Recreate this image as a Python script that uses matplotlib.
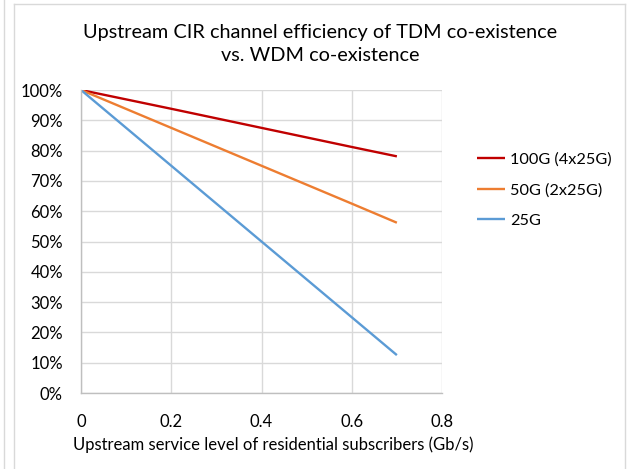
import matplotlib
matplotlib.use("Agg")
import matplotlib.pyplot as plt
from matplotlib.ticker import PercentFormatter
from matplotlib.lines import Line2D

plt.rcParams['font.family'] = ['Lato', 'DejaVu Sans']

x_vals = [0, 0.2, 0.4, 0.6, 0.7]
series_names = ["100G (4x25G)", "50G (2x25G)", "25G"]
eff_100g = [100, 93.8, 87.5, 81.2, 78.1]
eff_50g = [100, 87.5, 75.0, 62.5, 56.2]
eff_25g = [100, 75.0, 50.0, 25.0, 12.5]
colors = ["#C00000", "#ED7D31", "#5B9BD5"]
x_ticks = [0, 0.2, 0.4, 0.6, 0.8]
x_tick_labels = ["0", "0.2", "0.4", "0.6", "0.8"]

W, H = 627, 469
fig = plt.figure(figsize=(W / 100, H / 100), dpi=100)
ax = fig.add_axes([81 / W, 1 - 393 / H, (442 - 81) / W, (393 - 90) / H])

for vals, name, c in zip([eff_100g, eff_50g, eff_25g], series_names, colors):
    ax.plot(x_vals, vals, color=c, lw=1.7, label=name, solid_capstyle='butt')

ax.set_xlim(0, 0.8)
ax.set_ylim(0, 100)
ax.set_xticks(x_ticks)
ax.set_xticklabels(x_tick_labels)
ax.set_yticks(range(0, 101, 10))
ax.yaxis.set_major_formatter(PercentFormatter(decimals=0))
ax.grid(True, color="#d9d9d9", lw=1)
ax.set_axisbelow(True)
for s in ['top', 'right']:
    ax.spines[s].set_visible(False)
for s in ['left', 'bottom']:
    ax.spines[s].set_color("#bfbfbf")
    ax.spines[s].set_linewidth(1)
ax.tick_params(axis='both', length=0, labelsize=12, colors="#000000")
ax.tick_params(axis='x', pad=15)
ax.tick_params(axis='y', pad=13)

fig.text(273 / W, 1 - 445 / H, "Upstream service level of residential subscribers (Gb/s)",
         ha='center', va='center', fontsize=12)

fig.text(320 / W, 1 - 44 / H, "Upstream CIR channel efficiency of TDM co-existence\nvs. WDM co-existence",
         ha='center', va='center', fontsize=14.3, linespacing=1.45)

leg = fig.legend(loc='upper left', bbox_to_anchor=(470 / W, 1 - 146 / H), frameon=False,
                 fontsize=11.7, handlelength=1.75, handletextpad=0.3, labelspacing=1.0,
                 borderaxespad=0, borderpad=0.4)

# chart frame
fig.add_artist(Line2D([14 / W, 14 / W], [0, 1 - 4 / H], color="#d9d9d9", lw=1))
fig.add_artist(Line2D([625 / W, 625 / W], [0, 1 - 4 / H], color="#d9d9d9", lw=1))
fig.add_artist(Line2D([14 / W, 625 / W], [1 - 4 / H, 1 - 4 / H], color="#d9d9d9", lw=1))
fig.add_artist(Line2D([4 / W, 4 / W], [0, 1], color="#d9d9d9", lw=1))

fig.savefig("out.png", dpi=100)
